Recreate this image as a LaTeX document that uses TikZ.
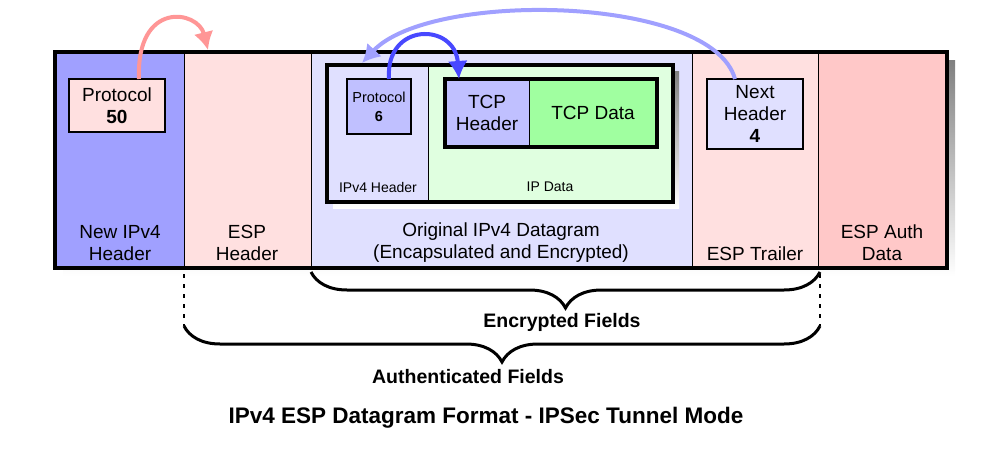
\documentclass[tikz,border=0pt]{standalone}
\usepackage{fontspec}
\setmainfont{Liberation Sans}
\usetikzlibrary{arrows.meta,decorations.pathreplacing,positioning}
\definecolor{hdrblue}{RGB}{160,160,255}
\definecolor{esppink}{RGB}{255,224,224}
\definecolor{authpink}{RGB}{255,200,200}
\definecolor{lavender}{RGB}{224,224,255}
\definecolor{midblue}{RGB}{192,192,255}
\definecolor{palegreen}{RGB}{224,255,224}
\definecolor{tcpgreen}{RGB}{160,255,160}
\definecolor{shade}{RGB}{218,216,160}
\definecolor{arrpink}{RGB}{255,150,150}
\definecolor{arrlight}{RGB}{160,160,255}
\definecolor{arrdark}{RGB}{72,72,255}

\begin{document}
\begin{tikzpicture}[x=1pt, y=-1pt,
    lbl/.style={font=\fontsize{19}{22}\selectfont, align=center, inner sep=0pt},
    small/.style={font=\fontsize{14}{17}\selectfont, align=center, inner sep=0pt},
    bold/.style={font=\bfseries\fontsize{19.5}{23}\selectfont, inner sep=0pt},
    col/.style={draw, line width=0.8pt, fill=#1, minimum height=216pt,
                anchor=north west, inner sep=0pt, outer sep=0pt},
    fld/.style={draw, line width=2.4pt, fill=#1, inner sep=0pt, outer sep=0pt,
                align=center, font=\fontsize{19}{22}\selectfont},
    jump/.style={-{Latex[length=18pt,width=20pt]}, line width=4pt, draw=#1},
    brc/.style={decorate, decoration={brace, mirror, amplitude=36pt}, line width=3pt},
    dots/.style={line width=2.5pt, dash pattern=on 4pt off 6pt}]

  \useasboundingbox (0,0) rectangle (999,458);

  %% Shadow of the whole datagram
  \fill[shade] (63,60) rectangle (955,276);

  %% ── Datagram fields ─────────────────────────────────────
  \node[col=hdrblue,   minimum width=129pt] (newip) at (55,52)  {};
  \node[col=esppink,   minimum width=127pt] (esph)  at (184,52) {};
  \node[col=lavender,  minimum width=381pt] (orig)  at (311,52) {};
  \node[col=esppink,   minimum width=126pt] (espt)  at (692,52) {};
  \node[col=authpink,  minimum width=129pt] (espa)  at (818,52) {};
  \draw[line width=3.5pt] (newip.north west) rectangle (espa.south east);

  \node[lbl] (newiplbl) at (120,243) {New IPv4\\Header};
  \node[lbl] (esphlbl)  at (247,243) {ESP\\Header};
  \node[lbl] (origlbl)  at (501,243) {Original IPv4 Datagram\\(Encapsulated and Encrypted)};
  \node[lbl] (esptlbl)  at (755,254) {ESP Trailer};
  \node[lbl] (espalbl)  at (882,243) {ESP Auth\\Data};

  %% ── Inner (original) IPv4 datagram ──────────────────────
  \fill[shade] (333,71) rectangle (679,208);
  \node[fld=lavender,  line width=0.8pt, minimum width=101pt, minimum height=137pt,
        anchor=north west] (iphdr)  at (327,65) {};
  \node[fld=palegreen, line width=0.8pt, minimum width=245pt, minimum height=137pt,
        anchor=north west] (ipdata) at (428,65) {};
  \draw[line width=3.5pt] (iphdr.north west) rectangle (ipdata.south east);
  \node[small] (iphdrlbl)  at (378,187) {IPv4 Header};
  \node[small] (ipdatalbl) at (550,187) {IP Data};

  %% TCP segment
  \node[fld=midblue,  line width=0.8pt, minimum width=84pt, minimum height=68pt,
        anchor=north west] (tcph) at (445,79) {TCP\\Header};
  \node[fld=tcpgreen, line width=0.8pt, minimum width=128pt, minimum height=68pt,
        anchor=north west] (tcpd) at (529,79) {TCP Data};
  \draw[line width=3.5pt] (tcph.north west) rectangle (tcpd.south east);

  %% ── Protocol / next header fields ───────────────────────
  \node[fld=esppink, minimum width=96pt, minimum height=53pt] (p50) at (117,105.5)
    {Protocol\\\textbf{50}};
  \node[fld=midblue, minimum width=64pt, minimum height=55pt,
        font=\fontsize{14.5}{19}\selectfont] (p6) at (379,106.5) {Protocol\\\textbf{6}};
  \node[fld=lavender, minimum width=96pt, minimum height=70pt] (nh) at (755,114)
    {Next\\Header\\\textbf{4}};

  %% Arrows from each protocol field to the header it names
  \coordinate (espin)  at (208,50);
  \coordinate (origin) at (362,63);
  \draw[jump=arrpink]  ([xshift=22pt]p50.north) .. controls (136,0) and (198,10) .. (espin);
  \draw[jump=arrlight] ([xshift=-20pt]nh.north) .. controls (712,-5) and (430,-10) .. (origin);
  \draw[jump=arrdark]  ([xshift=10pt]p6.north) .. controls (385,22) and (455,22)
    .. ([xshift=14pt]tcph.north west);

  %% ── Braces below ────────────────────────────────────────
  \coordinate (authl) at (184,326);
  \coordinate (authr) at (820,326);
  \draw[brc] ([yshift=-4pt]orig.south west) -- ([yshift=-4pt,xshift=2pt]espt.south east);
  \node[bold] (enclbl) at (562,322) {Encrypted Fields};
  \draw[dots] ([yshift=-6pt]esph.south west) -- (authl);
  \draw[dots] ([yshift=-6pt,xshift=2pt]espt.south east) -- (authr);
  \draw[brc] (authl) -- (authr);
  \node[bold] (authlbl) at (468,377) {Authenticated Fields};

  %% Caption
  \node[font=\bfseries\fontsize{22.5}{26}\selectfont] (title) at (486,418)
    {IPv4 ESP Datagram Format - IPSec Tunnel Mode};

\end{tikzpicture}
\end{document}
